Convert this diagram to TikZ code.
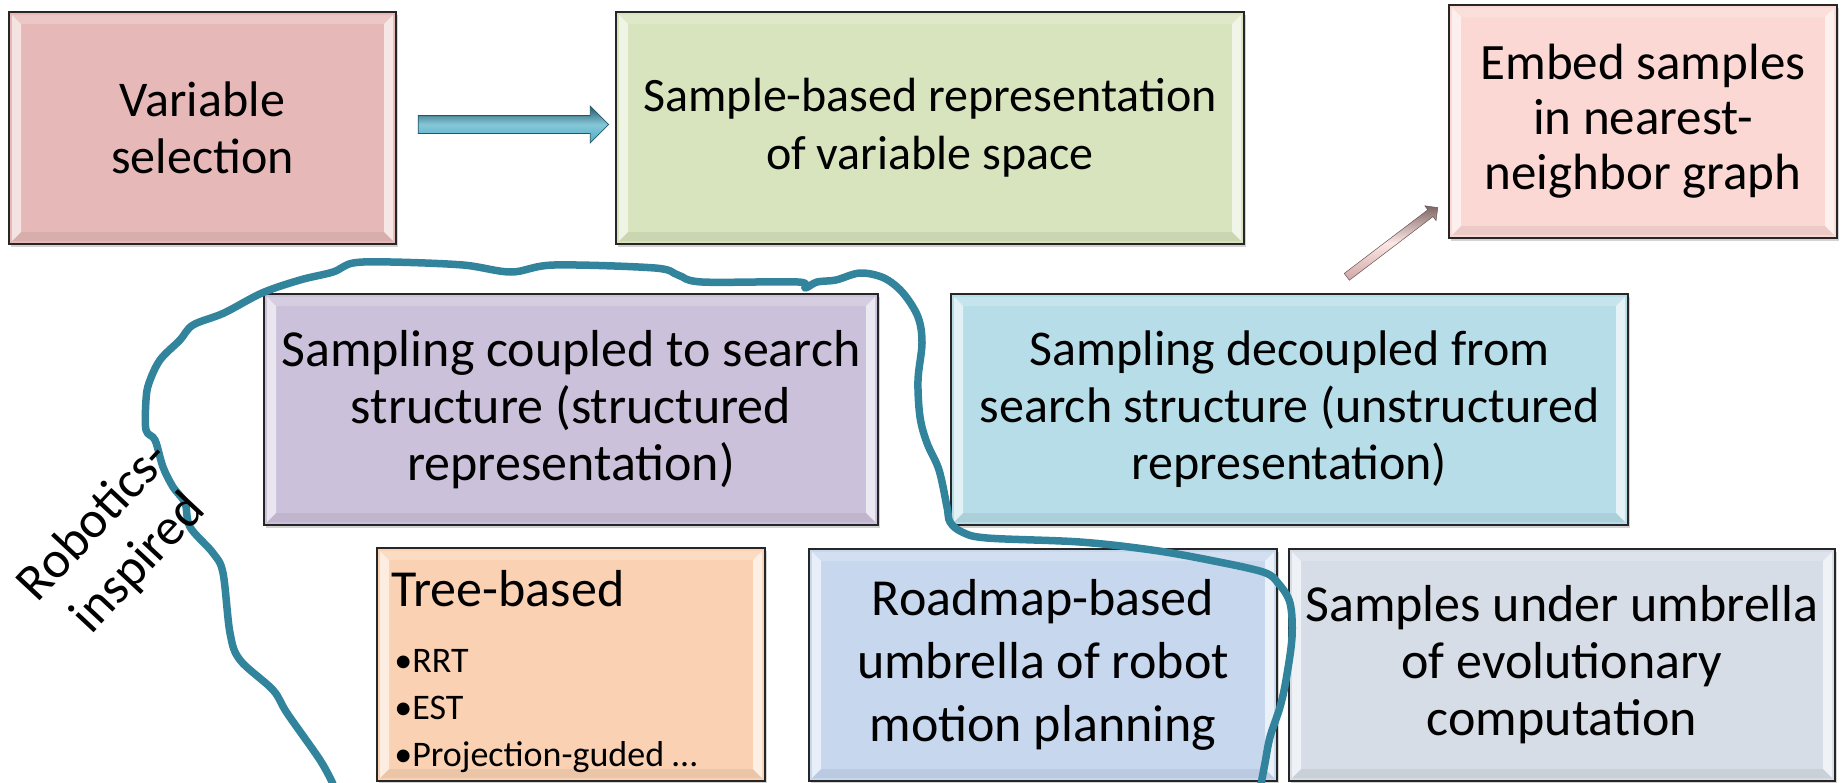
\documentclass[tikz,border=0pt]{standalone}
\usepackage{fontspec}
\setmainfont{Carlito}
\usetikzlibrary{calc,shapes.arrows,shadows}
\definecolor{cB1}{HTML}{E6B9B8}
\definecolor{cB2}{HTML}{D7E4BD}
\definecolor{cB3}{HTML}{FBD8D3}
\definecolor{cB4}{HTML}{CCC1DA}
\definecolor{cB5}{HTML}{B7DEE8}
\definecolor{cB6}{HTML}{FAD2B3}
\definecolor{cB7}{HTML}{C6D7EE}
\definecolor{cB8}{HTML}{D6DDE6}
\definecolor{cCurve}{HTML}{31849B}
\definecolor{cArrDark}{HTML}{215968}
\definecolor{cArrMid}{HTML}{86C7D8}
\definecolor{cArrLow}{HTML}{4BACC6}
\newcommand\setfs[2]{\fontsize{#1pt}{#2pt}\selectfont}
\begin{document}
\begin{tikzpicture}[x=1pt,y=-1pt,
  box/.style={draw=black!85, line width=1.6pt, inner sep=2pt, align=center,
    drop shadow={shadow xshift=2pt, shadow yshift=-3pt, opacity=0.35},
    path picture={
      \fill[white, opacity=0.6] ($(path picture bounding box.north west)+(3,3)$) -- ++(9,9)
        -- ($(path picture bounding box.south west)+(12,-12)$) -- ++(-9,9) -- cycle;
      \fill[white, opacity=0.65] ($(path picture bounding box.north east)+(-3,3)$) -- ++(-9,9)
        -- ($(path picture bounding box.south east)+(-12,-12)$) -- ++(9,9) -- cycle;
      \fill[white, opacity=0.2] ($(path picture bounding box.north west)+(3,3)$) -- ++(9,9)
        -- ($(path picture bounding box.north east)+(-12,12)$) -- ++(9,-9) -- cycle;
      \fill[black, opacity=0.06] ($(path picture bounding box.south west)+(3,-3)$) -- ++(9,-9)
        -- ($(path picture bounding box.south east)+(-12,-12)$) -- ++(9,9) -- cycle;
    }},
  arrA/.style={single arrow, draw=cArrDark, line width=0.8pt, inner xsep=0pt, inner ysep=8.5pt,
    single arrow head extend=9.5pt, minimum width=0pt,
    top color=cArrDark, bottom color=cArrLow, middle color=cArrMid},
  arrB/.style={single arrow, draw=black!55!cB1, line width=0.5pt, inner xsep=0pt, inner ysep=4pt,
    single arrow head extend=5pt, minimum width=0pt,
    top color=black!45!cB1, bottom color=cB1!90!black, middle color=cB3!60!white},
  curve/.style={draw=cCurve, line width=7.5pt, line cap=round, line join=round},
  lbl/.style={inner sep=0pt, anchor=base west}
]
\useasboundingbox (0,0) rectangle (1841,782);

% top row
\node[box, fill=cB1, minimum width=387pt, minimum height=232pt, font=\setfs{50}{57}] (b1) at (202.5,128) {Variable\\selection};
\node[box, fill=cB2, minimum width=628pt, minimum height=232pt, font=\setfs{48}{58}] (b2) at (930,128) {Sample-based representation\\of variable space};
\node[box, fill=cB3, minimum width=388pt, minimum height=233pt, font=\setfs{51}{55}] (b3) at (1643,121.5) {Embed samples\\in nearest-\\neighbor graph};

% middle row
\node[box, fill=cB4, minimum width=614pt, minimum height=231pt, font=\setfs{52}{57}] (b4) at (571,409.5) {Sampling coupled to search\\structure (structured\\representation)};
\node[box, fill=cB5, minimum width=677pt, minimum height=231pt, font=\setfs{50}{57}] (b5) at (1289.5,409.5) {Sampling decoupled from\\search structure (unstructured\\representation)};

% bottom row
\node[box, fill=cB6, minimum width=388pt, minimum height=233pt] (b6) at (571,664.5) {};
\node[box, fill=cB7, minimum width=468pt, minimum height=232pt, font=\setfs{52}{63}] (b7) at (1043,665) {Roadmap-based\\umbrella of robot\\motion planning};
\node[box, fill=cB8, minimum width=546pt, minimum height=232pt, font=\setfs{52}{57}] (b8) at (1562,665) {Samples under umbrella\\of evolutionary\\computation};

% tree-based contents
\node[lbl, font=\setfs{52}{60}] (t6a) at ($(b6.north west)+(15,59)$) {Tree-based};
\node[lbl, font=\setfs{36}{44}] (t6b) at ($(b6.north west)+(18,125)$) {•RRT};
\node[lbl, font=\setfs{36}{44}] (t6c) at ($(b6.north west)+(18,172)$) {•EST};
\node[lbl, font=\setfs{36}{44}] (t6d) at ($(b6.north west)+(18,219)$) {•Projection-guded …};

% block arrows
\coordinate (a1s) at ($(b1.east)+(17,-3.5)$);
\coordinate (a1e) at ($(b2.west)+(-11,-3.5)$);
\path let \p1=(a1s), \p2=(a1e), \n1={atan2(\y2-\y1,\x2-\x1)}, \n2={veclen(\x2-\x1,\y2-\y1)} in
  node[arrA, rotate=\n1, minimum height=\n2] (ar1) at ($(a1s)!0.5!(a1e)$) {};
\coordinate (a2s) at ($(b5.north)+(55.5,-15)$);
\coordinate (a2e) at ($(b3.south west)+(-12,-30)$);
\path let \p1=(a2s), \p2=(a2e), \n1={atan2(\y2-\y1,\x2-\x1)}, \n2={veclen(\x2-\x1,\y2-\y1)} in
  node[arrB, rotate=\n1, minimum height=\n2] (ar2) at ($(a2s)!0.5!(a2e)$) {};

% robotics-inspired outline
\draw[curve] plot[smooth, tension=0.55] coordinates {
 (333,784) (320,760) (287,713) (273,690) (240,660) (230,633) (223,573) (213,553)
 (190,527) (185,503) (173,487) (163,467) (155,440) (146,430) (146,400) (149,383)
 (160,360) (180,340) (193,325) (224,313) (262,293) (300,280) (333,272) (353,263)
 (391,262) (463,265) (511,272) (554,265) (655,268) (678,275) (702,282) (798,282)
 (805,288) (817,282) (836,280) (860,273) (884,278) (903,293) (918,317) (922,343)
 (918,380) (920,417) (927,443) (939,470) (947,507) (950,522) (962,532) (987,538)
 (1080,542) (1152,550) (1209,560) (1263,572) (1278,583) (1290,603) (1292,637)
 (1286,680) (1280,707) (1270,737) (1265,763) (1261,784)};

\node[rotate=47, align=center, inner sep=0pt, font=\setfs{52}{61}] (rob) at (117,543) {Robotics-\\inspired};
\end{tikzpicture}
\end{document}
